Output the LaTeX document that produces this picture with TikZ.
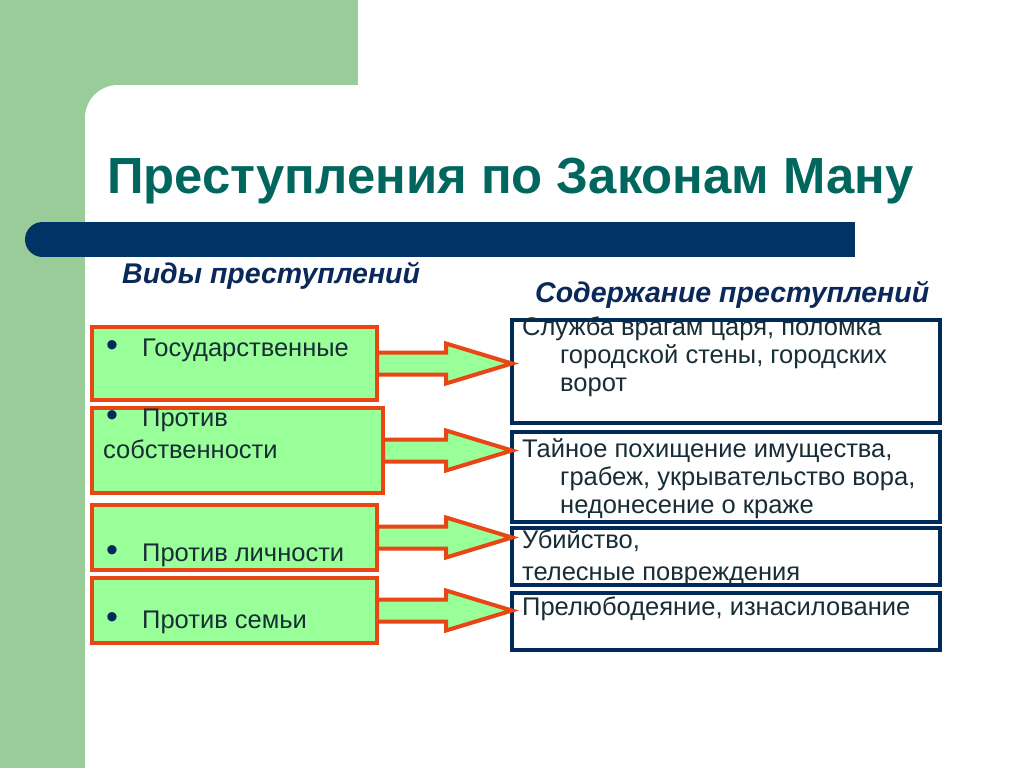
\documentclass[tikz,border=0pt]{standalone}
\usepackage{fontspec}
\setmainfont{Liberation Sans}
\usetikzlibrary{positioning,calc}
\definecolor{colorback}    {RGB}{153,204,153}
\definecolor{colorbar}     {RGB}{0  ,51 ,102}
\definecolor{colortitle}   {RGB}{0  ,102,94 }
\definecolor{colorhead}    {RGB}{10 ,40 ,90 }
\definecolor{colorbox}     {RGB}{153,255,153}
\definecolor{colorframe}   {RGB}{232,70 ,20 }
\definecolor{colorcontent} {RGB}{0  ,42 ,90 }
\definecolor{colortext}    {RGB}{25 ,45 ,55 }
\newcommand{\dotitem}{\makebox[36pt][l]{\textcolor{colorcontent}{\fontsize{34}{28}\selectfont•}}}

\begin{document}
\begin{tikzpicture}[
    x=1pt, y=-1pt,
    title/.style={text=colortitle,font={\fontsize{50.8}{60}\selectfont\bfseries},inner sep=0pt},
    head/.style={text=colorhead,font={\fontsize{28.5}{33}\selectfont\bfseries\itshape},inner sep=0pt},
    txt/.style={text=colortext,font={\fontsize{25.5}{28}\selectfont},inner sep=0pt,align=left},
    kind/.style={draw=colorframe,fill=colorbox,line width=4pt,outer sep=0pt,minimum width=285pt},
    content/.style={draw=colorcontent,fill=white,line width=3.5pt,outer sep=0pt,minimum width=428pt},
    blockarrow/.style={draw=colorframe,fill=colorbox,line width=4pt,line join=miter,
        to path={let \p1=(\tikztostart), \p2=(\tikztotarget) in
            (\x1,\y1-11pt) -- (\x2-66pt,\y1-11pt) -- (\x2-66pt,\y1-20pt) -- (\x2,\y1)
            -- (\x2-66pt,\y1+20pt) -- (\x2-66pt,\y1+11pt) -- (\x1,\y1+11pt) -- cycle}},
]

    % Background
    \path[use as bounding box,clip] (0,0) rectangle (1024,768);
    \fill[white] (0,0) rectangle (1024,768);
    \fill[colorback] (0,0) rectangle (358,85);
    \fill[colorback] (0,0) rectangle (120,768);
    \fill[white,rounded corners=33pt] (85,85) rectangle (1060,800);
    \fill[colorbar] (42.5,222) rectangle (855,257);
    \fill[colorbar] (42.5,239.5) circle[radius=17.5pt];

    % Headings
    \node[title,anchor=base west] (title) at (107,193) {Преступления по Законам Ману};
    \node[head,anchor=base west]  (kinds) at (122,283) {Виды преступлений};
    \node[head,anchor=base west]  (contents) at (535,302) {Содержание преступлений};

    % Nodes
    \node[kind,minimum height=73pt] (state) at (234.5,363.5) {};
    \node[kind,minimum height=85pt,minimum width=291pt,below=8pt of state.south west,anchor=north west]    (property) {};
    \node[kind,minimum height=65pt,below=12pt of property.south west,anchor=north west] (person) {};
    \node[kind,minimum height=65pt,below=8pt of person.south west,anchor=north west]    (family) {};

    \node[content,minimum height=103pt] (treason) at (726,371.5) {};
    \node[content,minimum height=90pt,below=9pt of treason]  (theft)  {};
    \node[content,minimum height=57pt,below=6pt of theft]    (murder) {};
    \node[content,minimum height=57pt,below=8pt of murder]   (adultery) {};

    % Text (base = last line)
    \node[txt,anchor=base west] (statetxt) at ([xshift=14pt,yshift=-29pt]state.north west)
        {\dotitem Государственные};
    \node[txt,anchor=base west] (propertytxt) at ([xshift=11pt,yshift=-50pt]property.north west)
        {\hspace*{3pt}\dotitem Против\\[4pt]собственности};
    \node[txt,anchor=base west] (persontxt) at ([xshift=14pt,yshift=-56pt]person.north west)
        {\dotitem Против личности};
    \node[txt,anchor=base west] (familytxt) at ([xshift=14pt,yshift=-50pt]family.north west)
        {\dotitem Против семьи};

    \node[txt,anchor=base west] (treasontxt) at ([xshift=10pt,yshift=-71pt]treason.north west)
        {Служба врагам царя, поломка\\\hspace*{38pt}городской стены, городских\\\hspace*{38pt}ворот};
    \node[txt,anchor=base west] (thefttxt) at ([xshift=10pt,yshift=-81pt]theft.north west)
        {Тайное похищение имущества,\\\hspace*{38pt}грабеж, укрывательство вора,\\\hspace*{38pt}недонесение о краже};
    \node[txt,anchor=base west] (murdertxt) at ([xshift=10pt,yshift=-52pt]murder.north west)
        {Убийство,\\[4pt]телесные повреждения};
    \node[txt,anchor=base west] (adulterytxt) at ([xshift=10pt,yshift=-22pt]adultery.north west)
        {Прелюбодеяние, изнасилование};

    % Arrows
    \draw[blockarrow] (state.east)    to (state.east -| treason.west);
    \draw[blockarrow] (property.east) to (property.east -| theft.west);
    \draw[blockarrow] (person.east)   to (person.east -| murder.west);
    \draw[blockarrow] (family.east)   to (family.east -| adultery.west);

\end{tikzpicture}
\end{document}
